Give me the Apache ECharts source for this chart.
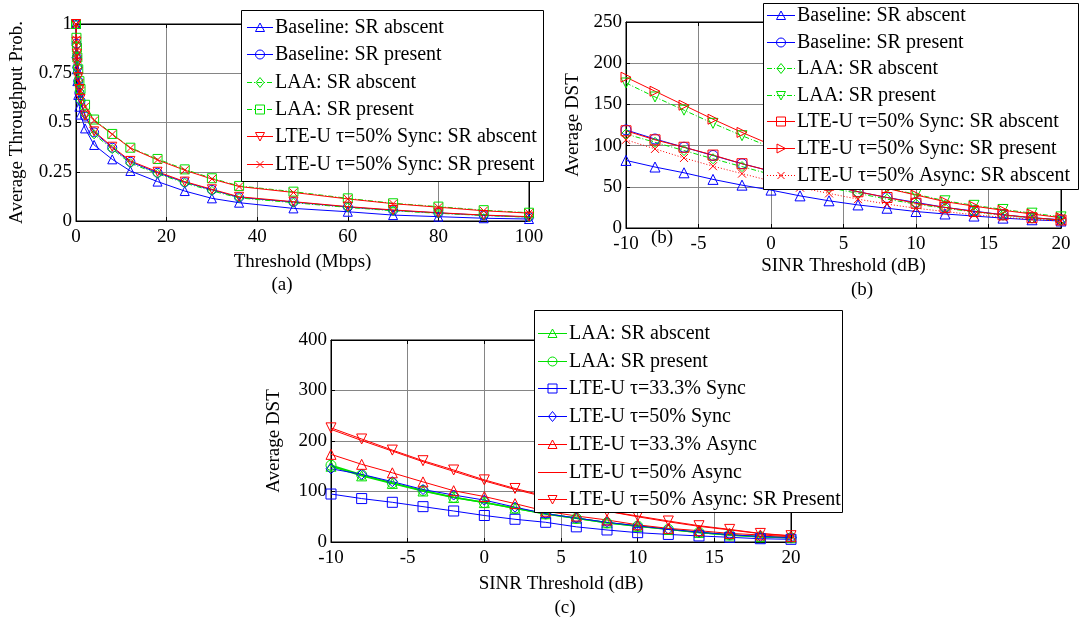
<!DOCTYPE html>
<html>
<head>
<meta charset="utf-8">
<script src="https://cdn.jsdelivr.net/npm/echarts@6/dist/echarts.min.js"></script>
<style>
  html, body { margin: 0; padding: 0; background: #fff; }
  #chart { width: 1081px; height: 624px; }
</style>
</head>
<body>
<div id="chart"></div>
<script>
// ---- (a) throughput probability vs. threshold ----
const thresholdMbps = [0, 0.1, 0.2, 0.3, 0.5, 0.75, 1, 2, 4, 8, 12, 18, 24, 30, 36, 48, 60, 70, 80, 90, 100];
const aBaselineAbs = [1, 0.85, 0.77, 0.71, 0.64, 0.58, 0.54, 0.47, 0.386, 0.313, 0.254, 0.2, 0.152, 0.115, 0.093, 0.064, 0.047, 0.03, 0.022, 0.014, 0.01];
const aBaselinePres = [1, 0.9, 0.83, 0.78, 0.71, 0.65, 0.61, 0.53, 0.45, 0.372, 0.3, 0.245, 0.197, 0.158, 0.12, 0.096, 0.071, 0.054, 0.041, 0.029, 0.02];
const aLaaAbs = [1, 0.89, 0.83, 0.78, 0.71, 0.66, 0.61, 0.54, 0.44, 0.365, 0.293, 0.24, 0.193, 0.153, 0.117, 0.093, 0.069, 0.052, 0.039, 0.028, 0.019];
const aLaaPres = [1, 0.93, 0.88, 0.83, 0.77, 0.71, 0.67, 0.59, 0.515, 0.442, 0.372, 0.315, 0.262, 0.217, 0.178, 0.149, 0.115, 0.09, 0.073, 0.055, 0.042];
const aLteSyncAbs = [1, 0.91, 0.85, 0.8, 0.73, 0.67, 0.62, 0.535, 0.455, 0.377, 0.305, 0.25, 0.2, 0.161, 0.123, 0.098, 0.073, 0.056, 0.042, 0.03, 0.022];
const aLteSyncPres = [1, 0.92, 0.87, 0.82, 0.76, 0.7, 0.66, 0.58, 0.51, 0.44, 0.37, 0.31, 0.258, 0.213, 0.175, 0.145, 0.112, 0.088, 0.07, 0.052, 0.04];

// ---- (b) and (c) average DST vs. SINR threshold ----
const sinrDb = [-10, -8, -6, -4, -2, 0, 2, 4, 6, 8, 10, 12, 14, 16, 18, 20];
const bBaselineAbs = [82, 74, 67, 59, 52, 46, 39, 33, 28, 24, 20, 17, 14.5, 12, 10, 8.5];
const bBaselinePres = [119, 108, 98, 88, 78, 69, 60, 52, 44, 37, 31, 25, 20.5, 16, 12.5, 10];
const bLaaAbs = [114, 104, 94, 84, 74.5, 65, 57, 49, 42, 35, 29, 24, 19.5, 15.5, 12, 9.5];
const bLaaPres = [176, 159, 143, 127, 112, 98, 85, 72, 59, 48, 41, 33, 27.5, 22.5, 18, 13.5];
const bLteSyncAbs = [118, 107, 98, 88.5, 78, 69, 60, 52, 44, 37, 30, 25, 20, 16, 12.5, 9.7];
const bLteSyncPres = [183, 166, 149, 132, 116, 101, 87, 74, 60, 48, 40, 32, 26.5, 21.5, 17, 12.5];
const bLteAsyncAbs = [107, 96, 85, 75, 66, 57, 49, 42, 35, 29, 24, 20, 16, 13, 10.5, 8.5];

const cLaaAbs = [150, 131, 116, 101, 88, 78, 67, 56, 47, 38, 31, 25, 19, 14, 10.5, 8.5];
const cLaaPres = [152, 133, 117, 102, 88.5, 78, 66.7, 55.5, 47, 38, 31.5, 25, 19, 14, 10.5, 8.5];
const cLte33Sync = [95, 86, 78.6, 70, 61.4, 52.5, 45, 39, 30, 23.8, 18.5, 15, 12, 9.3, 6.5, 5.3];
const cLte50Sync = [145, 134, 119.5, 104, 93, 83, 69, 56, 47.5, 39, 32, 25.5, 19.5, 14.5, 11, 8.8];
const cLte33Async = [173.6, 153.8, 137, 119, 101.6, 90, 76, 61, 51.5, 43.6, 34, 27, 22.4, 17, 14, 10.5];
const cLte50Async = [223, 201, 180, 159, 140, 121, 104, 89, 74, 61, 50, 40, 31, 24, 16.5, 12];
const cLte50AsyncPres = [226, 204, 182, 161, 142.6, 123, 106, 91, 76, 61, 51.5, 41.6, 32.3, 25, 17, 12.5];

// axis tick settings
const ticksA = { xMin: 0, xMax: 100, xStep: 20, yMin: 0, yMax: 1, yStep: 0.25 };
const ticksB = { xMin: -10, xMax: 20, xStep: 5, yMin: 0, yMax: 250, yStep: 50 };
const ticksC = { xMin: -10, xMax: 20, xStep: 5, yMin: 0, yMax: 400, yStep: 100 };

const FONT = 'Liberation Serif, Times New Roman, serif';
const AXIS_FS = 19;
const LEGEND_FS = 20;
const BLUE = '#0000ff', GREEN = '#00e000', RED = '#ff0000';
const CLEAR = 'rgba(0,0,0,0)';

// marker kinds: ECharts symbol for the plot, outline drawn in the key boxes
const SYM = {
  up: 'triangle',
  down: 'path://M0,0L10,0L5,9Z',
  right: 'path://M0,0L9,5L0,10Z',
  circle: 'circle',
  diamond: 'diamond',
  square: 'rect',
  cross: 'path://M0,0L10,10M0,10L10,0'
};

const grids = [
  { left: 76, top: 24, width: 453, height: 197 },
  { left: 626, top: 22, width: 435, height: 206 },
  { left: 331, top: 340, width: 460, height: 202 }
].map(g => Object.assign(g, { show: true, borderColor: '#000', borderWidth: 1, backgroundColor: '#fff' }));

function mainX(gi, t, name, gap) {
  return {
    type: 'value', gridIndex: gi, min: t.xMin, max: t.xMax, interval: t.xStep,
    name: name, nameLocation: 'middle', nameGap: gap,
    nameTextStyle: { fontFamily: FONT, fontSize: AXIS_FS, color: '#000' },
    axisLine: { onZero: false, lineStyle: { color: '#000', width: 1 } },
    axisTick: { inside: true, length: 4, lineStyle: { color: '#000' } },
    axisLabel: { fontFamily: FONT, fontSize: AXIS_FS, color: '#000', margin: 7 },
    splitLine: { show: true, lineStyle: { color: '#858585', width: 1 } }
  };
}
function mainY(gi, t, name, gap) {
  return {
    type: 'value', gridIndex: gi, min: t.yMin, max: t.yMax, interval: t.yStep,
    name: name, nameLocation: 'middle', nameGap: gap,
    nameTextStyle: { fontFamily: FONT, fontSize: AXIS_FS, color: '#000' },
    axisLine: { onZero: false, lineStyle: { color: '#000', width: 1 } },
    axisTick: { inside: true, length: 4, lineStyle: { color: '#000' } },
    axisLabel: { fontFamily: FONT, fontSize: AXIS_FS, color: '#000', margin: 4 },
    splitLine: { show: true, lineStyle: { color: '#858585', width: 1 } }
  };
}
function mirrorX(gi, t) {
  return {
    type: 'value', gridIndex: gi, position: 'top', min: t.xMin, max: t.xMax, interval: t.xStep,
    axisLine: { onZero: false, lineStyle: { color: '#000' } },
    axisTick: { inside: true, length: 4, lineStyle: { color: '#000' } },
    axisLabel: { show: false }, splitLine: { show: false }
  };
}
function mirrorY(gi, t) {
  return {
    type: 'value', gridIndex: gi, position: 'right', min: t.yMin, max: t.yMax, interval: t.yStep,
    axisLine: { onZero: false, lineStyle: { color: '#000' } },
    axisTick: { inside: true, length: 4, lineStyle: { color: '#000' } },
    axisLabel: { show: false }, splitLine: { show: false }
  };
}

// key entries per panel, filled while the series are built
const keyEntries = { a: [], b: [], c: [] };

function line(panel, label, xs, ys, color, symbol, size, dash, width) {
  const gi = { a: 0, b: 1, c: 2 }[panel];
  const type = dash || 'solid';
  keyEntries[panel].push({ label: label, color: color, symbol: symbol, dash: Array.isArray(dash) ? dash : null });
  return {
    type: 'line', name: panel + ': ' + label, xAxisIndex: gi, yAxisIndex: gi,
    data: xs.map((x, i) => [x, ys[i]]),
    symbol: symbol || 'none', symbolSize: size, showSymbol: !!symbol,
    lineStyle: { color: color, width: width || 1, type: type },
    itemStyle: { color: CLEAR, borderColor: color, borderWidth: 1 },
    silent: true, z: 3
  };
}

const dashDot = [5, 2, 1, 2];
const dotted = [1, 2];

const series = [
  line('a', 'Baseline: SR abscent', thresholdMbps, aBaselineAbs, BLUE, SYM.up, 9),
  line('a', 'Baseline: SR present', thresholdMbps, aBaselinePres, BLUE, SYM.circle, 9),
  line('a', 'LAA: SR abscent', thresholdMbps, aLaaAbs, GREEN, SYM.diamond, 9, dashDot),
  line('a', 'LAA: SR present', thresholdMbps, aLaaPres, GREEN, SYM.square, 9, dashDot),
  line('a', 'LTE-U τ=50% Sync: SR abscent', thresholdMbps, aLteSyncAbs, RED, SYM.down, 9),
  line('a', 'LTE-U τ=50% Sync: SR present', thresholdMbps, aLteSyncPres, RED, SYM.cross, 8),

  line('b', 'Baseline: SR abscent', sinrDb, bBaselineAbs, BLUE, SYM.up, 10),
  line('b', 'Baseline: SR present', sinrDb, bBaselinePres, BLUE, SYM.circle, 10),
  line('b', 'LAA: SR abscent', sinrDb, bLaaAbs, GREEN, SYM.diamond, 10, dashDot),
  line('b', 'LAA: SR present', sinrDb, bLaaPres, GREEN, SYM.down, 10, dashDot),
  line('b', 'LTE-U τ=50% Sync: SR abscent', sinrDb, bLteSyncAbs, RED, SYM.square, 10),
  line('b', 'LTE-U τ=50% Sync: SR present', sinrDb, bLteSyncPres, RED, SYM.right, 10),
  line('b', 'LTE-U τ=50% Async: SR abscent', sinrDb, bLteAsyncAbs, RED, SYM.cross, 8, dotted),

  line('c', 'LAA: SR abscent', sinrDb, cLaaAbs, GREEN, SYM.up, 10, 'solid', 1.5),
  line('c', 'LAA: SR present', sinrDb, cLaaPres, GREEN, SYM.circle, 10, 'solid', 1.5),
  line('c', 'LTE-U τ=33.3% Sync', sinrDb, cLte33Sync, BLUE, SYM.square, 10),
  line('c', 'LTE-U τ=50% Sync', sinrDb, cLte50Sync, BLUE, SYM.diamond, 10),
  line('c', 'LTE-U τ=33.3% Async', sinrDb, cLte33Async, RED, SYM.up, 10),
  line('c', 'LTE-U τ=50% Async', sinrDb, cLte50Async, RED, null, 10),
  line('c', 'LTE-U τ=50% Async: SR Present', sinrDb, cLte50AsyncPres, RED, SYM.down, 10)
];

// outline of a marker centred on (cx, cy) for the key boxes
function keyMarker(symbol, cx, cy, color) {
  const st = { fill: 'none', stroke: color, lineWidth: 1 };
  const r = 4.5;
  const poly = pts => ({ type: 'polygon', z: 101, shape: { points: pts.map(p => [cx + p[0], cy + p[1]]) }, style: st });
  switch (symbol) {
    case SYM.up: return [poly([[0, -r], [r, r - 0.5], [-r, r - 0.5]])];
    case SYM.down: return [poly([[-r, -r + 0.5], [r, -r + 0.5], [0, r]])];
    case SYM.right: return [poly([[-r + 0.5, -r], [r, 0], [-r + 0.5, r]])];
    case SYM.diamond: return [poly([[0, -r - 0.5], [r - 0.5, 0], [0, r + 0.5], [-r + 0.5, 0]])];
    case SYM.square: return [{ type: 'rect', z: 101, shape: { x: cx - r, y: cy - r, width: 2 * r, height: 2 * r }, style: st }];
    case SYM.circle: return [{ type: 'circle', z: 101, shape: { cx: cx, cy: cy, r: r }, style: st }];
    case SYM.cross: return [
      { type: 'line', z: 101, shape: { x1: cx - 3.5, y1: cy - 3.5, x2: cx + 3.5, y2: cy + 3.5 }, style: st },
      { type: 'line', z: 101, shape: { x1: cx - 3.5, y1: cy + 3.5, x2: cx + 3.5, y2: cy - 3.5 }, style: st }
    ];
    default: return [];
  }
}

// boxed key: frame, then one row per series (line sample, marker, label)
function keyBox(panel, box) {
  const els = [{
    type: 'rect', z: 100,
    shape: { x: box.left + 0.5, y: box.top + 0.5, width: box.width, height: box.height },
    style: { fill: '#fff', stroke: '#000', lineWidth: 1 }
  }];
  keyEntries[panel].forEach((e, i) => {
    const y = Math.round(box.top + box.first + i * box.step) + 0.5;
    els.push({
      type: 'line', z: 101,
      shape: { x1: box.iconX, y1: y, x2: box.iconX + box.iconW, y2: y },
      style: { stroke: e.color, lineWidth: 1, lineDash: e.dash || null }
    });
    keyMarker(e.symbol, box.iconX + box.iconW / 2, y, e.color).forEach(m => els.push(m));
    els.push({
      type: 'text', z: 101, x: box.iconX + box.iconW + 2, y: y,
      style: { text: e.label, font: LEGEND_FS + 'px ' + FONT, fill: '#000', textAlign: 'left', textVerticalAlign: 'middle' }
    });
  });
  return els;
}

function caption(text, x, y) {
  return {
    type: 'text', x: x, y: y, z: 20,
    style: { text: text, font: AXIS_FS + 'px ' + FONT, fill: '#000', textAlign: 'center', textVerticalAlign: 'middle' }
  };
}

const chart = echarts.init(document.getElementById('chart'), null, { renderer: 'canvas' });
chart.setOption({
  animation: false,
  backgroundColor: '#fff',
  grid: grids,
  xAxis: [
    mainX(0, ticksA, 'Threshold (Mbps)', 32),
    mainX(1, ticksB, 'SINR Threshold (dB)', 29),
    mainX(2, ticksC, 'SINR Threshold (dB)', 33),
    mirrorX(0, ticksA), mirrorX(1, ticksB), mirrorX(2, ticksC)
  ],
  yAxis: [
    mainY(0, ticksA, 'Average Throughput Prob.', 49),
    mainY(1, ticksB, 'Average DST', 43),
    mainY(2, ticksC, 'Average DST', 47),
    mirrorY(0, ticksA), mirrorY(1, ticksB), mirrorY(2, ticksC)
  ],
  series: series,
  graphic: [].concat(
    keyBox('a', { left: 241, top: 10, width: 302, height: 171, first: 17, step: 27.3, iconX: 247, iconW: 26 }),
    keyBox('b', { left: 763, top: 3, width: 315, height: 186, first: 12, step: 26.6, iconX: 767, iconW: 28 }),
    keyBox('c', { left: 534, top: 310, width: 308, height: 202, first: 23, step: 27.7, iconX: 538, iconW: 29 }),
    [
      caption('(a)', 282, 285),
      caption('(b)', 662, 238),
      caption('(b)', 862, 290),
      caption('(c)', 565, 608)
    ]
  )
});
</script>
</body>
</html>
